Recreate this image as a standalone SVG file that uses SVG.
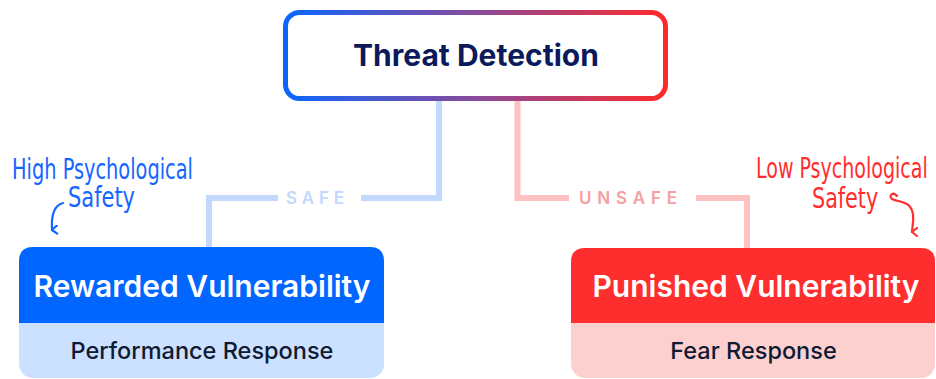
<svg xmlns="http://www.w3.org/2000/svg" width="936" height="379" viewBox="0 0 936 379">
<defs>
<linearGradient id="g" gradientUnits="userSpaceOnUse" x1="285" y1="0" x2="667" y2="0">
<stop offset="0" stop-color="#0a66ff"/>
<stop offset="0.5" stop-color="#8a4a9a"/>
<stop offset="1" stop-color="#ff2a2a"/>
</linearGradient>
<marker id="ab" viewBox="0 0 10 10" refX="5" refY="8" markerWidth="10" markerHeight="10" markerUnits="userSpaceOnUse" orient="auto">
<path d="M1,3 L5,8 L9,3" fill="none" stroke="#1466ff" stroke-width="2.2" stroke-linecap="round" stroke-linejoin="round"/>
</marker>
<marker id="ar" viewBox="0 0 10 10" refX="5" refY="8" markerWidth="10" markerHeight="10" markerUnits="userSpaceOnUse" orient="auto">
<path d="M1,3 L5,8 L9,3" fill="none" stroke="#ff2e2e" stroke-width="2.2" stroke-linecap="round" stroke-linejoin="round"/>
</marker>
</defs>
<style>
.t{font-family:Inter,"Noto Sans",sans-serif}
.title{font-size:30px;font-weight:700;fill:#0c1a5c}
.head{font-size:30px;font-weight:600;fill:#ffffff}
.sub{font-size:23.5px;font-weight:500;fill:#0f1a33}
.lbl{font-size:17px;font-weight:600;letter-spacing:9px}
.hand{font-family:"DejaVu Sans Condensed","Liberation Sans Narrow",sans-serif;font-size:28px}
.cb{fill:none;stroke:#c2d9fc;stroke-width:6}
.cr{fill:none;stroke:#ffc2c2;stroke-width:6}
</style>
<rect width="936" height="379" fill="#ffffff"/>
<g id="connectors">
<path class="cb" d="M439,101 V198 H361 M278,198 H209 V248"/>
<path class="cr" d="M517.5,101 V198 H569 M696,198 H747 V249"/>
<text class="t lbl" x="286" y="204" fill="#c2d9fc" textLength="67" lengthAdjust="spacing">SAFE</text>
<text class="t lbl" x="579" y="204" fill="#f5a0a0" textLength="107" lengthAdjust="spacing">UNSAFE</text>
</g>
<g id="threat-detection">
<rect x="285.5" y="12.5" width="380" height="86" rx="14" fill="#ffffff" stroke="url(#g)" stroke-width="5"/>
<text class="t title" x="476" y="66" text-anchor="middle">Threat Detection</text>
</g>
<g id="rewarded-vulnerability">
<rect x="19" y="247" width="365" height="131" rx="14" fill="#cce0ff"/>
<path d="M19,323 V261 Q19,247 33,247 H370 Q384,247 384,261 V323 Z" fill="#0066ff"/>
<text class="t head" x="202" y="297" text-anchor="middle">Rewarded Vulnerability</text>
<text class="t sub" x="202" y="359" text-anchor="middle">Performance Response</text>
</g>
<g id="punished-vulnerability">
<rect x="571" y="248" width="364" height="130" rx="14" fill="#fdd0d0"/>
<path d="M571,323 V262 Q571,248 585,248 H921 Q935,248 935,262 V323 Z" fill="#ff2e2e"/>
<text class="t head" x="756" y="297" text-anchor="middle">Punished Vulnerability</text>
<text class="t sub" x="753.5" y="359" text-anchor="middle">Fear Response</text>
</g>
<g id="high-safety-note">
<text class="hand" transform="translate(12,179) scale(0.77,1)" fill="#1466ff" textLength="235" lengthAdjust="spacingAndGlyphs">High Psychological</text>
<text class="hand" transform="translate(68,207) scale(0.77,1)" fill="#1466ff" textLength="87" lengthAdjust="spacingAndGlyphs">Safety</text>
<path d="M63,203 C55,205 51,213 52,230" fill="none" stroke="#1466ff" stroke-width="2.2" stroke-linecap="round" marker-end="url(#ab)"/>
</g>
<g id="low-safety-note">
<text class="hand" transform="translate(756,178) scale(0.77,1)" fill="#ff2e2e" textLength="223" lengthAdjust="spacingAndGlyphs">Low Psychological</text>
<text class="hand" transform="translate(812,208) scale(0.77,1)" fill="#ff2e2e" textLength="86" lengthAdjust="spacingAndGlyphs">Safety</text>
<path d="M897,196 C893,191 888,196 892,199 C900,203 910,200 913,214 C914,222 912,228 912,232" fill="none" stroke="#ff2e2e" stroke-width="2.2" stroke-linecap="round" marker-end="url(#ar)"/>
</g>
</svg>
